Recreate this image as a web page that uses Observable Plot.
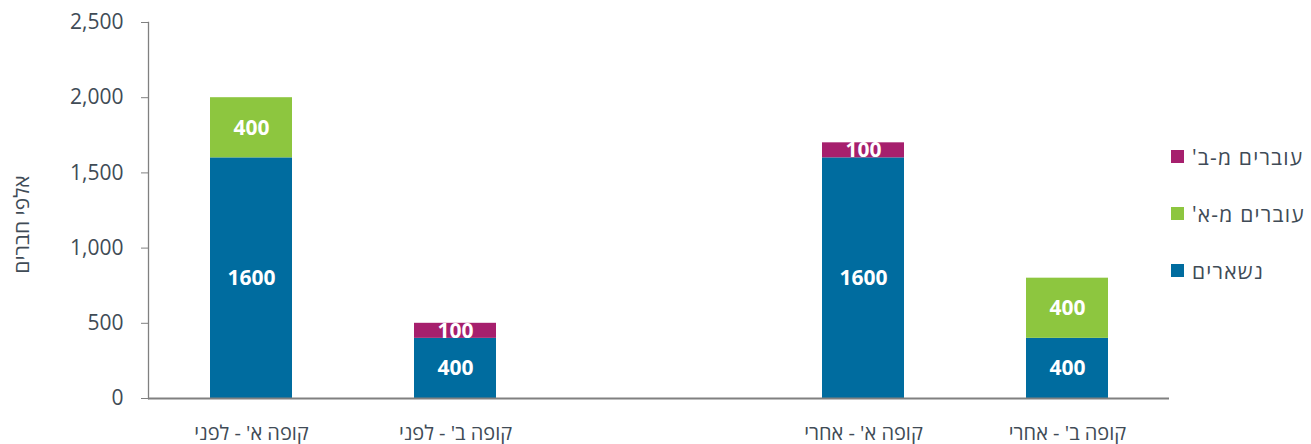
<!DOCTYPE html>
<html>
<head>
<meta charset="utf-8">
<script src="https://cdn.jsdelivr.net/npm/d3@7"></script>
<script src="https://cdn.jsdelivr.net/npm/@observablehq/plot@0.6"></script>
<style>
  body { margin: 0; background: #fff; font-family: "Open Sans", "DejaVu Sans", sans-serif; }
  #wrap { position: relative; width: 1311px; height: 444px; }
  #legend { position: absolute; left: 1171px; top: 128px; }
  .row { display: flex; align-items: center; height: 57px; direction: ltr; }
  .sw { width: 13px; height: 13px; margin-right: 8px; flex: none; }
  .lab { direction: rtl; font-size: 21px; letter-spacing: 1.2px; color: #404b56; white-space: nowrap; }
</style>
</head>
<body>
<div id="wrap"><div id="legend"></div></div>
<script>
const categories = ["קופה א' - לפני", "קופה ב' - לפני", " ", "קופה א' - אחרי", "קופה ב' - אחרי"];
const seriesNames = ["נשארים", "עוברים מ-א'", "עוברים מ-ב'"];
const seriesColors = ["#006c9f", "#8dc63f", "#a61f6d"];
const stayValues = [1600, 400, 0, 1600, 400];
const fromAValues = [400, 0, 0, 0, 400];
const fromBValues = [0, 100, 0, 100, 0];
const yTicks = [0, 500, 1000, 1500, 2000, 2500];
const yLabel = "אלפי חברים";

const valuesBySeries = [stayValues, fromAValues, fromBValues];
const data = [];
seriesNames.forEach((s, i) => {
  categories.forEach((c, j) => {
    const v = valuesBySeries[i][j];
    if (v > 0) data.push({category: c, series: s, value: v});
  });
});

const textColor = "#404b56";
const axisColor = "#808080";

const chart = Plot.plot({
  width: 1311,
  height: 444,
  marginLeft: 148,
  marginRight: 142,
  marginTop: 22,
  marginBottom: 46,
  style: {fontFamily: "'Open Sans', 'DejaVu Sans', sans-serif", fontSize: "20px", color: textColor, background: "#fff"},
  x: {domain: categories, paddingInner: 0.6, paddingOuter: 0.3, axis: null},
  y: {domain: [0, 2500], axis: null},
  color: {domain: seriesNames, range: seriesColors},
  marks: [
    Plot.barY(data, Plot.stackY({x: "category", y: "value", fill: "series", order: seriesNames})),
    Plot.text(data, Plot.stackY({x: "category", y: "value", z: "series", order: seriesNames, text: d => String(d.value), fill: "white", fontWeight: "bold", fontSize: 21})),
    Plot.axisY({ticks: yTicks, tickFormat: d3.format(","), tickSize: 7, tickPadding: 18, stroke: axisColor, fill: textColor, label: null, fontSize: 21, letterSpacing: 0.8}),
    Plot.axisX({tickSize: 0, tickPadding: 27, fill: textColor, label: null, fontSize: 20, tickFormat: d => d.trim()}),
    Plot.frame({anchor: "left", stroke: axisColor, strokeWidth: 1.3}),
    Plot.ruleY([0], {stroke: axisColor, strokeWidth: 2}),
    Plot.text([yLabel], {frameAnchor: "left", dx: -126, dy: 14, rotate: -90, textAnchor: "middle", fill: textColor, fontSize: 21, letterSpacing: 1, style: "direction: rtl"})
  ]
});
document.getElementById("wrap").prepend(chart);

const legend = document.getElementById("legend");
[2, 1, 0].forEach(i => {
  const row = document.createElement("div");
  row.className = "row";
  const sw = document.createElement("span");
  sw.className = "sw";
  sw.style.background = seriesColors[i];
  const lab = document.createElement("span");
  lab.className = "lab";
  lab.textContent = seriesNames[i];
  row.append(sw, lab);
  legend.append(row);
});
</script>
</body>
</html>
